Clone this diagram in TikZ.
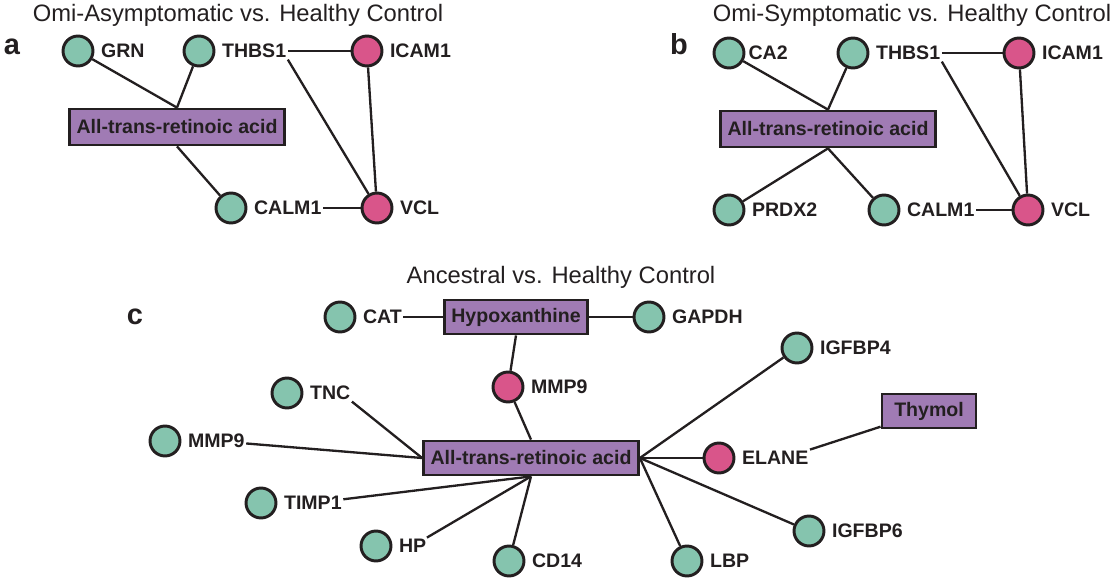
\documentclass[tikz,border=0pt]{standalone}
\usepackage{fontspec}
\setmainfont{Liberation Sans}
\usepackage{xcolor}
\usepackage{tikz}
\usetikzlibrary{positioning}

\definecolor{genegreen}{RGB}{133,196,174}
\definecolor{genered}{RGB}{217,85,138}
\definecolor{drugpurple}{RGB}{160,123,180}
\definecolor{inkblack}{RGB}{35,31,32}

\begin{document}
\begin{tikzpicture}[
        x=0.025cm, y=-0.025cm,
        node distance=3.5pt,
        gene/.style={circle, draw=inkblack, line width=2.1pt, minimum size=21.3pt, inner sep=0pt, fill=genegreen},
        dep/.style={gene, fill=genered},
        glabel/.style={inner sep=1pt, font=\fontsize{13.9}{16}\selectfont\bfseries, text=inkblack},
        drug/.style={rectangle, draw=inkblack, line width=2pt, fill=drugpurple, minimum height=25.6pt, inner xsep=5pt, font=\fontsize{13.9}{16}\selectfont\bfseries, text=inkblack},
        heading/.style={font=\fontsize{16.9}{20}\selectfont, text=inkblack},
        panel/.style={font=\fontsize{20.6}{24}\selectfont\bfseries, text=inkblack, inner sep=0pt},
        link/.style={line width=1.65pt, draw=inkblack}
    ]
    \useasboundingbox (0,0) rectangle (1114,586);

    % Panel a: Omi-Asymptomatic
    \node[heading] (a-title) at (238,15) {Omi-Asymptomatic vs. Healthy Control};
    \node[panel] (a-tag) at (12,47) {a};
    \node[gene] (a-grn) at (78,51) {};
    \node[glabel, right=of a-grn] (a-grn-l) {GRN};
    \node[gene] (a-thbs1) at (199,51) {};
    \node[glabel, right=of a-thbs1] (a-thbs1-l) {THBS1};
    \node[dep] (a-icam1) at (367,51) {};
    \node[glabel, right=of a-icam1] (a-icam1-l) {ICAM1};
    \node[drug] (a-atra) at (177,127) {All-trans-retinoic acid};
    \node[gene] (a-calm1) at (231,208) {};
    \node[glabel, right=of a-calm1] (a-calm1-l) {CALM1};
    \node[dep] (a-vcl) at (377,208) {};
    \node[glabel, right=of a-vcl] (a-vcl-l) {VCL};

    \draw[link] (a-grn) -- (a-atra.north);
    \draw[link] (a-thbs1) -- (a-atra.north);
    \draw[link] (a-atra.south) -- (a-calm1);
    \draw[link] (a-thbs1-l) -- (a-icam1);
    \draw[link] (a-thbs1-l.south east) -- (a-vcl);
    \draw[link] (a-icam1) -- (a-vcl);
    \draw[link] (a-calm1-l) -- (a-vcl);

    % Panel b: Omi-Symptomatic
    \node[heading] (b-title) at (912,15) {Omi-Symptomatic vs. Healthy Control};
    \node[panel] (b-tag) at (679,44) {b};
    \node[gene] (b-ca2) at (729,53) {};
    \node[glabel, right=1pt of b-ca2] (b-ca2-l) {CA2};
    \node[gene] (b-thbs1) at (853,53) {};
    \node[glabel, right=of b-thbs1] (b-thbs1-l) {THBS1};
    \node[dep] (b-icam1) at (1019,53) {};
    \node[glabel, right=of b-icam1] (b-icam1-l) {ICAM1};
    \node[drug] (b-atra) at (828,129) {All-trans-retinoic acid};
    \node[gene] (b-prdx2) at (729,210) {};
    \node[glabel, right=of b-prdx2] (b-prdx2-l) {PRDX2};
    \node[gene] (b-calm1) at (884,210) {};
    \node[glabel, right=of b-calm1] (b-calm1-l) {CALM1};
    \node[dep] (b-vcl) at (1028,210) {};
    \node[glabel, right=of b-vcl] (b-vcl-l) {VCL};

    \draw[link] (b-ca2) -- (b-atra.north);
    \draw[link] (b-thbs1) -- (b-atra.north);
    \draw[link] (b-atra.south) -- (b-prdx2);
    \draw[link] (b-atra.south) -- (b-calm1);
    \draw[link] (b-thbs1-l) -- (b-icam1);
    \draw[link] (b-thbs1-l.south east) -- (b-vcl);
    \draw[link] (b-icam1) -- (b-vcl);
    \draw[link] (b-calm1-l) -- (b-vcl);

    % Panel c: Ancestral
    \node[heading] (c-title) at (561,277) {Ancestral vs. Healthy Control};
    \node[panel] (c-tag) at (135,317) {c};
    \node[gene] (c-cat) at (340,317) {};
    \node[glabel, right=of c-cat] (c-cat-l) {CAT};
    \node[drug, minimum height=24.2pt] (c-hypo) at (516,317) {Hypoxanthine};
    \node[gene] (c-gapdh) at (649,317) {};
    \node[glabel, right=of c-gapdh] (c-gapdh-l) {GAPDH};
    \node[dep] (c-mmp9r) at (508,387) {};
    \node[glabel, right=of c-mmp9r] (c-mmp9r-l) {MMP9};
    \node[drug, minimum height=24.2pt] (c-atra) at (531,458) {All-trans-retinoic acid};
    \node[gene] (c-tnc) at (287,393) {};
    \node[glabel, right=of c-tnc] (c-tnc-l) {TNC};
    \node[gene] (c-mmp9g) at (165,441) {};
    \node[glabel, right=of c-mmp9g] (c-mmp9g-l) {MMP9};
    \node[gene] (c-timp1) at (261,503) {};
    \node[glabel, right=of c-timp1] (c-timp1-l) {TIMP1};
    \node[gene] (c-hp) at (376,546) {};
    \node[glabel, right=of c-hp] (c-hp-l) {HP};
    \node[gene] (c-cd14) at (509,561) {};
    \node[glabel, right=of c-cd14] (c-cd14-l) {CD14};
    \node[gene] (c-igfbp4) at (797,348) {};
    \node[glabel, right=of c-igfbp4] (c-igfbp4-l) {IGFBP4};
    \node[dep] (c-elane) at (719,458) {};
    \node[glabel, right=of c-elane] (c-elane-l) {ELANE};
    \node[drug, minimum height=24.2pt, minimum width=66.9pt] (c-thymol) at (929,411) {Thymol};
    \node[gene] (c-igfbp6) at (809,531) {};
    \node[glabel, right=of c-igfbp6] (c-igfbp6-l) {IGFBP6};
    \node[gene] (c-lbp) at (687,561) {};
    \node[glabel, right=of c-lbp] (c-lbp-l) {LBP};

    \draw[link] (c-cat-l) -- (c-hypo);
    \draw[link] (c-hypo) -- (c-gapdh);
    \draw[link] (c-hypo.south) -- (c-mmp9r);
    \draw[link] (c-mmp9r) -- (c-atra.north);
    \draw[link] (c-tnc-l.south east) -- (c-atra.west);
    \draw[link] (c-mmp9g-l) -- (c-atra.west);
    \draw[link] (c-timp1-l) -- (c-atra.south);
    \draw[link] (c-hp-l) -- (c-atra.south);
    \draw[link] (c-cd14) -- (c-atra.south);
    \draw[link] (c-atra.east) -- (c-igfbp4);
    \draw[link] (c-atra.east) -- (c-elane);
    \draw[link] (c-atra.east) -- (c-igfbp6);
    \draw[link] (c-atra.east) -- (c-lbp);
    \draw[link] (c-elane-l.north east) -- (c-thymol);

    \end{tikzpicture}
\end{document}
